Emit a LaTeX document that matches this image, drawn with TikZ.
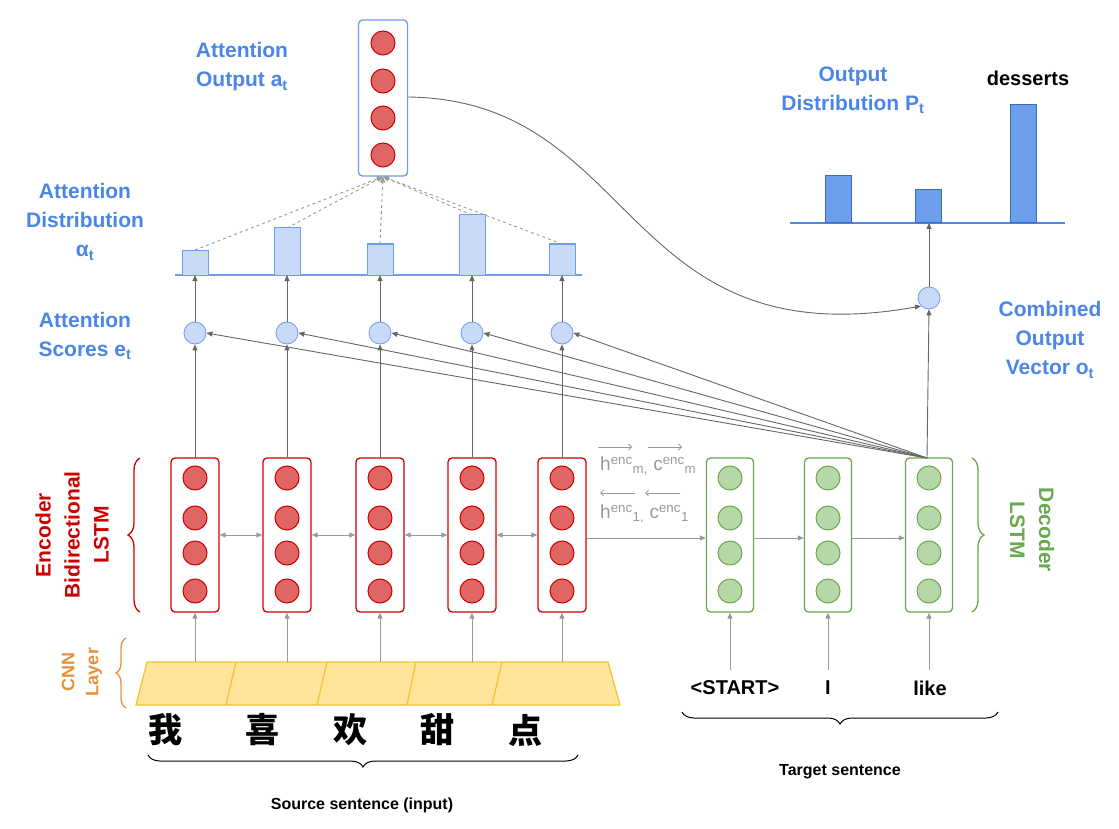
\documentclass[tikz,border=0pt]{standalone}
\usepackage{fontspec}
\setmainfont{Liberation Sans}
\newfontfamily\cjk{Noto Sans CJK SC}
\usetikzlibrary{arrows.meta,decorations.pathreplacing}
\definecolor{encred}{HTML}{CC0000}
\definecolor{encfill}{HTML}{E06666}
\definecolor{decg}{HTML}{6AA84F}
\definecolor{decfill}{HTML}{B6D7A8}
\definecolor{ablue}{HTML}{4A86E8}
\definecolor{lbar}{HTML}{C9DAF8}
\definecolor{lbord}{HTML}{6D9EEB}
\definecolor{cnnf}{HTML}{FFE599}
\definecolor{cnnb}{HTML}{F1C232}
\definecolor{orng}{HTML}{E69138}
\definecolor{gr}{HTML}{999999}
\definecolor{dg}{HTML}{666666}
\begin{document}
\begin{tikzpicture}[x=1pt,y=-1pt,
 ebox/.style={draw=encred,line width=1.3pt,rounded corners=4pt,minimum width=48pt,minimum height=154pt,inner sep=0pt},
 dbox/.style={draw=decg,line width=1.3pt,rounded corners=4pt,minimum width=47pt,minimum height=154pt,inner sep=0pt},
 ec/.style={circle,draw=encred,fill=encfill,line width=1pt,minimum size=24pt,inner sep=0pt},
 dc/.style={circle,draw=decg,fill=decfill,line width=1pt,minimum size=24pt,inner sep=0pt},
 sc/.style={circle,draw=lbord,fill=lbar,line width=0.8pt,minimum size=22pt,inner sep=0pt},
 arr/.style={-{Triangle[length=6pt,width=5pt]},draw=gr,line width=1pt},
 darr/.style={-{Triangle[length=6pt,width=5pt]},draw=dg,line width=0.9pt},
 lab/.style={font=\bfseries\fontsize{21}{29}\selectfont,text=ablue,align=center},
 blk/.style={font=\bfseries\fontsize{20}{24}\selectfont},
 sm/.style={font=\bfseries\fontsize{16}{19}\selectfont},
 hl/.style={text=gr,font=\fontsize{19}{22}\selectfont,anchor=west,inner sep=0pt}]
\useasboundingbox (0,0) rectangle (1119,829);
% encoder
\foreach \x [count=\i] in {195,287,380,472,562}{
 \node[ebox] (e\i) at (\x,535) {};
 \foreach \y [count=\j] in {478,518,553,591} \node[ec] (e\i c\j) at (\x,\y) {};
 \node[sc] (s\i) at (\x,333) {};
 \draw[darr] (e\i.north) -- (s\i.south);
}
\foreach \a/\b in {1/2,2/3,3/4,4/5} \draw[{Triangle[length=6pt,width=5pt]}-{Triangle[length=6pt,width=5pt]},draw=gr,line width=1pt] (e\a.east|-0,535) -- (e\b.west|-0,535);
% decoder
\foreach \x [count=\i] in {730,828,929}{
 \node[dbox] (d\i) at (\x,535) {};
 \foreach \y [count=\j] in {478,518,553,591} \node[dc] (d\i c\j) at (\x,\y) {};
}
\draw[arr] (e5.east|-0,538) -- (d1.west|-0,538);
\draw[arr] (d1.east|-0,538) -- (d2.west|-0,538);
\draw[arr] (d2.east|-0,538) -- (d3.west|-0,538);
\node[hl] (hm) at (600,466) {h\textsuperscript{enc}\textsubscript{m,} c\textsuperscript{enc}\textsubscript{m}};
\node[hl] (h1) at (600,514) {h\textsuperscript{enc}\textsubscript{1,} c\textsuperscript{enc}\textsubscript{1}};
\coordinate (ra1) at (598,447); \coordinate (ra2) at (632,447);
\coordinate (rb1) at (648,447); \coordinate (rb2) at (682,447);
\coordinate (la1) at (635,493); \coordinate (la2) at (600,493);
\coordinate (lb1) at (680,493); \coordinate (lb2) at (645,493);
\foreach \p in {ra,rb,la,lb} \draw[-{Straight Barb[length=3pt]},draw=gr,line width=0.8pt] (\p1) -- (\p2);
% attention bars
\draw[lbord,line width=1.3pt] (175,275) -- (582,275);
\foreach \x/\t [count=\i] in {195/250,287/228,380/244,472/215,562/244}{
 \draw[draw=lbord,fill=lbar,line width=1pt] (\x-13,275) rectangle (\x+13,\t);
 \coordinate (b\i) at (\x,\t);
 \draw[darr] (s\i.north) -- (\x,275);
}
% attention output
\node[draw=lbord,line width=1.3pt,rounded corners=4pt,minimum width=49pt,minimum height=156pt,inner sep=0pt,fill=white] (ao) at (383,98) {};
\foreach \y in {43,81,118,155} \node[ec] at (383,\y) {};
\foreach \i in {1,...,5} \draw[-{Triangle[length=6pt,width=5pt]},draw=gr,dashed,line width=0.9pt] (b\i) -- (ao.south);
% combined
\node[sc] (co) at (929,298) {};
\coordinate (dt) at (927,458);
\draw[darr] (dt) -- (co.south);
\foreach \i in {1,...,5} \draw[darr] (dt) -- (s\i.east);
\draw[darr] (ao.east|-0,97) .. controls (640,100) and (620,360) .. (co.south west);
% output distribution
\draw[ablue,line width=1.3pt] (790,223) -- (1065,223);
\draw[darr] (co.north) -- (929,223);
\foreach \x/\t in {838/176,928/190,1023/105} \draw[draw=ablue!80!black,fill=lbord,line width=1pt] (\x-13,223) rectangle (\x+13,\t);
% labels
\node[lab] at (242,67) {Attention\\Output a\textsubscript{t}};
\node[lab] at (85,222) {Attention\\Distribution\\α\textsubscript{t}};
\node[lab] at (85,336) {Attention\\Scores e\textsubscript{t}};
\node[lab] at (853,90) {Output\\Distribution P\textsubscript{t}};
\node[blk] at (1028,78) {desserts};
\node[lab] at (1050,340) {Combined\\Output\\Vector o\textsubscript{t}};
% braces
\draw[encred,line width=1.3pt,decorate,decoration={brace,amplitude=12pt}] (140,612) -- (140,458);
\node[lab,text=encred,rotate=90] at (72,535) {Encoder\\Bidirectional\\LSTM};
\draw[decg,line width=1.3pt,decorate,decoration={brace,amplitude=12pt}] (972,458) -- (972,612);
\node[lab,text=decg,rotate=-90] at (1032,530) {Decoder\\LSTM};
\draw[orng,line width=1.3pt,decorate,decoration={brace,amplitude=10pt}] (126,708) -- (126,638);
\node[lab,text=orng,rotate=90,font=\bfseries\fontsize{18}{24}\selectfont] at (82,672) {CNN\\Layer};
% CNN
\draw[cnnb,fill=cnnf,line width=1.2pt] (147,662) -- (608,662) -- (620,705) -- (136,705) -- cycle;
\foreach \a/\b in {236/226,327/317,416/407,502/492} \draw[cnnb,line width=1.2pt] (\a,662) -- (\b,705);
\foreach \i/\x in {1/195,2/287,3/380,4/472,5/562} \draw[arr] (\x,662) -- (e\i.south);
\foreach \c/\x in {我/165,喜/262,欢/350,甜/437,点/525} \node[font=\cjk\bfseries\fontsize{34}{36}\selectfont] at (\x,730) {\c};
\draw[line width=1pt,decorate,decoration={brace,amplitude=12pt,mirror}] (148,755) -- (578,755);
\node[sm] at (362,805) {Source sentence (input)};
% target
\foreach \t/\x/\i in {<START>/735/1,I/828/2,like/930/3}{
 \node[blk] (w\i) at (\x,688) {\t};
 \draw[arr] (d\i.south|-0,670) -- (d\i.south);
}
\draw[line width=1pt,decorate,decoration={brace,amplitude=12pt,mirror}] (682,712) -- (998,712);
\node[sm] at (840,772) {Target sentence};
\end{tikzpicture}
\end{document}
